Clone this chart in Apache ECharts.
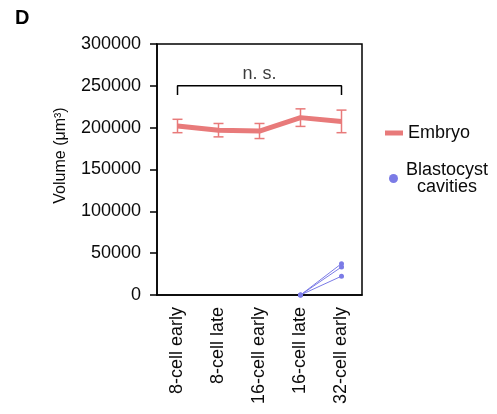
<!DOCTYPE html>
<html>
<head>
<meta charset="utf-8">
<script src="https://cdn.jsdelivr.net/npm/echarts@6/dist/echarts.min.js"></script>
<style>html,body{margin:0;padding:0;background:#fff}#c{width:497px;height:414px}</style>
</head>
<body>
<div id="c"></div>
<script>
var categories = ['8-cell early', '8-cell late', '16-cell early', '16-cell late', '32-cell early'];
var embryoMean = [202000, 197000, 196000, 212000, 207500];
var embryoErr = [8000, 8000, 9000, 10500, 13500];
var cavity1 = [null, null, null, 0, 37500];
var cavity2 = [null, null, null, 0, 33500];
var cavity3 = [null, null, null, 0, 22500];
var yTicks = [0, 50000, 100000, 150000, 200000, 250000, 300000];
var bracketY = 250000, bracketLow = 239000;

var FONT = '"Liberation Sans", Arial, Helvetica, sans-serif';
var RED = '#e87a7a', BLUE = '#7b7be6', INK = '#0a0a0a';

var chart = echarts.init(document.getElementById('c'));
function cavitySeries(d) {
  return {
    name: 'Blastocyst cavities', type: 'line', data: d,
    color: BLUE, lineStyle: { width: 1, color: BLUE },
    itemStyle: { color: BLUE }, symbol: 'circle', symbolSize: 5,
    showSymbol: true, connectNulls: false, z: 3
  };
}
chart.setOption({
  animation: false,
  textStyle: { fontFamily: FONT },
  title: { text: 'D', left: 15, top: 8, padding: 0,
    textStyle: { fontSize: 20, fontWeight: 'bold', color: '#000', fontFamily: FONT } },
  grid: { left: 157, top: 44, width: 205, height: 251, show: true,
    borderColor: '#000', borderWidth: 1.5, backgroundColor: 'transparent' },
  legend: [{
    data: [{ name: 'Embryo', icon: 'rect' }],
    left: 380, top: 119, orient: 'vertical', itemWidth: 18, itemHeight: 5, itemGap: 5,
    textStyle: { fontSize: 18, color: INK, fontFamily: FONT }, selectedMode: false
  }, {
    data: [{ name: 'Blastocyst cavities', icon: 'circle' }],
    left: 384, top: 156, orient: 'vertical', itemWidth: 9, itemHeight: 9,
    formatter: function () { return '{a|Blastocyst}\n{a|cavities}'; },
    textStyle: { fontSize: 18, color: INK, fontFamily: FONT,
      rich: { a: { fontSize: 18, width: 88, align: 'center', lineHeight: 17, fontFamily: FONT, color: INK } } },
    selectedMode: false
  }],
  xAxis: {
    type: 'category', data: categories, boundaryGap: true,
    axisLine: { lineStyle: { color: '#000', width: 1.5 } },
    axisTick: { alignWithLabel: true, length: 6, lineStyle: { color: '#000', width: 1.5 } },
    axisLabel: { rotate: 90, fontSize: 18, color: INK, margin: 12, fontFamily: FONT }
  },
  yAxis: {
    type: 'value', min: 0, max: 300000, interval: 50000,
    name: 'Volume (μm³)', nameLocation: 'middle', nameGap: 88,
    nameTextStyle: { fontSize: 16, color: INK, fontFamily: FONT, padding: [0, 0, 0, 28] },
    splitLine: { show: false },
    axisLine: { show: true, lineStyle: { color: '#000', width: 1.5 } },
    axisTick: { show: true, length: 7, lineStyle: { color: '#000', width: 1.5 } },
    axisLabel: { fontSize: 18, color: INK, margin: 16, fontFamily: FONT,
      formatter: function (v) { return yTicks.indexOf(v) >= 0 ? String(v) : ''; } }
  },
  series: [
    {
      name: 'Embryo', type: 'line', data: embryoMean, color: RED,
      lineStyle: { width: 5, color: RED }, symbol: 'none', z: 4, smooth: false
    },
    {
      name: 'EmbryoErr', type: 'custom', z: 3,
      data: embryoMean.map(function (m, i) { return [i, m - embryoErr[i], m + embryoErr[i]]; }),
      renderItem: function (params, api) {
        var lo = api.coord([api.value(0), api.value(1)]);
        var hi = api.coord([api.value(0), api.value(2)]);
        var w = 5;
        var st = { stroke: RED, lineWidth: 1.5, fill: null };
        return { type: 'group', children: [
          { type: 'line', shape: { x1: lo[0], y1: lo[1], x2: hi[0], y2: hi[1] }, style: st },
          { type: 'line', shape: { x1: lo[0] - w, y1: lo[1], x2: lo[0] + w, y2: lo[1] }, style: st },
          { type: 'line', shape: { x1: hi[0] - w, y1: hi[1], x2: hi[0] + w, y2: hi[1] }, style: st }
        ]};
      }
    },
    cavitySeries(cavity1),
    cavitySeries(cavity2),
    cavitySeries(cavity3),
    {
      name: 'bracket', type: 'line', symbol: 'none', color: '#000',
      lineStyle: { color: '#000', width: 1.5 },
      data: [[0, bracketLow], [0, bracketY], [4, bracketY], [4, bracketLow]]
    },
    {
      name: 'ns', type: 'scatter', symbolSize: 0, data: [[2, bracketY]],
      label: { show: true, position: 'top', distance: 3, formatter: 'n. s.',
        fontSize: 18, color: INK, fontFamily: FONT }
    }
  ]
});
</script>
</body>
</html>
